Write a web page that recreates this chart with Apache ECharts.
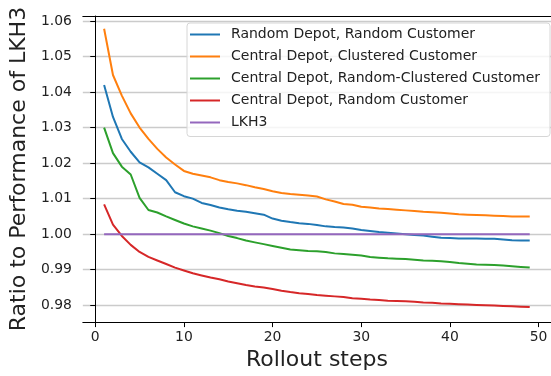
<!DOCTYPE html>
<html>
<head>
<meta charset="utf-8">
<script src="https://cdn.jsdelivr.net/npm/echarts@6/dist/echarts.min.js"></script>
<style>
  html, body { margin: 0; padding: 0; background: #fff; }
  #chart { width: 551px; height: 376px; }
</style>
</head>
<body>
<div id="chart"></div>
<script>
// rollout steps 1..49
const steps = [];
for (let i = 1; i <= 49; i++) steps.push(i);

const seriesNames = [
  "Random Depot, Random Customer",
  "Central Depot, Clustered Customer",
  "Central Depot, Random-Clustered Customer",
  "Central Depot, Random Customer",
  "LKH3"
];

const randomRandom = [
  1.0420, 1.0330, 1.0268, 1.0232, 1.0202, 1.0188, 1.0170, 1.0152, 1.0118, 1.0107,
  1.0100, 1.0088, 1.0082, 1.0075, 1.0070, 1.0066, 1.0063, 1.0059, 1.0055, 1.0044,
  1.0038, 1.0034, 1.0031, 1.0029, 1.0026, 1.0022, 1.0020, 1.0019, 1.0016, 1.0012,
  1.0009, 1.0006, 1.0004, 1.0002, 1.0000, 0.9998, 0.9996, 0.9993, 0.9990, 0.9989,
  0.9988, 0.9988, 0.9988, 0.9987, 0.9987, 0.9985, 0.9983, 0.9982, 0.9982
];

const centralClustered = [
  1.0578, 1.0448, 1.0390, 1.0340, 1.0300, 1.0268, 1.0240, 1.0216, 1.0196, 1.0178,
  1.0170, 1.0165, 1.0160, 1.0152, 1.0147, 1.0143, 1.0138, 1.0132, 1.0127, 1.0121,
  1.0116, 1.0113, 1.0111, 1.0109, 1.0106, 1.0098, 1.0092, 1.0085, 1.0083, 1.0077,
  1.0075, 1.0072, 1.0071, 1.0069, 1.0067, 1.0065, 1.0063, 1.0062, 1.0060, 1.0058,
  1.0056, 1.0055, 1.0054, 1.0053, 1.0052, 1.0051, 1.0050, 1.0050, 1.0050
];

const centralRandomClustered = [
  1.0300, 1.0228, 1.0190, 1.0168, 1.0102, 1.0068, 1.0061, 1.0050, 1.0040, 1.0030,
  1.0022, 1.0016, 1.0010, 1.0003, 0.9995, 0.9989, 0.9982, 0.9977, 0.9972, 0.9967,
  0.9962, 0.9957, 0.9955, 0.9953, 0.9952, 0.9950, 0.9946, 0.9944, 0.9942, 0.9940,
  0.9936, 0.9934, 0.9932, 0.9931, 0.9930, 0.9928, 0.9926, 0.9925, 0.9924, 0.9922,
  0.9919, 0.9917, 0.9915, 0.9914, 0.9913, 0.9912, 0.9910, 0.9908, 0.9906
];

const centralRandom = [
  1.0084, 1.0027, 0.9995, 0.9970, 0.9950, 0.9936, 0.9926, 0.9916, 0.9906, 0.9898,
  0.9890, 0.9884, 0.9878, 0.9873, 0.9867, 0.9862, 0.9857, 0.9853, 0.9850, 0.9846,
  0.9841, 0.9837, 0.9834, 0.9832, 0.9829, 0.9827, 0.9825, 0.9823, 0.9820, 0.9818,
  0.9816, 0.9815, 0.9813, 0.9812, 0.9811, 0.9810, 0.9808, 0.9807, 0.9805, 0.9804,
  0.9803, 0.9802, 0.9801, 0.9800, 0.9799, 0.9798, 0.9797, 0.9796, 0.9795
];

const lkh3 = steps.map(() => 1.0);

const xTicks = [0, 10, 20, 30, 40, 50];
const yTicks = [0.98, 0.99, 1.00, 1.01, 1.02, 1.03, 1.04, 1.05, 1.06];

const colors = ["#1f77b4", "#ff7f0e", "#2ca02c", "#d62728", "#9467bd"];
const allValues = [randomRandom, centralClustered, centralRandomClustered, centralRandom, lkh3];

const font = "DejaVu Sans";
const chart = echarts.init(document.getElementById("chart"));

const option = {
  animation: false,
  color: colors,
  // plot runs past the right edge of the picture (cropped figure)
  grid: { left: 81, top: 16, right: -6, bottom: 52 },
  legend: {
    orient: "vertical",
    left: 187, top: 23,
    padding: [4.5, 10, 7, 3],
    icon: "rect",
    itemGap: 8,
    itemWidth: 30,
    itemHeight: 2,
    backgroundColor: "rgba(255,255,255,0.8)",
    borderColor: "#d6d6d6",
    borderWidth: 1,
    borderRadius: 3,
    textStyle: { fontFamily: font, fontSize: 14, color: "#222", padding: [0, 0, 0, 6] },
    data: seriesNames
  },
  xAxis: [
    {
      type: "value",
      min: -1.4, max: 51.4,
      name: "Rollout steps",
      nameLocation: "middle",
      nameGap: 24,
      nameTextStyle: { fontFamily: font, fontSize: 22, color: "#222" },
      axisLine: { show: true, lineStyle: { color: "#000", width: 1 } },
      axisTick: { show: true, length: 5, customValues: xTicks, lineStyle: { color: "#000" } },
      axisLabel: { customValues: xTicks, margin: 8, fontFamily: font, fontSize: 13.9, color: "#222" },
      splitLine: { show: false }
    },
    {
      // top spine only
      type: "value",
      position: "top",
      min: -1.4, max: 51.4,
      axisLine: { show: true, onZero: false, lineStyle: { color: "#000", width: 1 } },
      axisTick: { show: false },
      axisLabel: { show: false },
      splitLine: { show: false }
    }
  ],
  yAxis: {
    type: "value",
    min: 0.97526, max: 1.0614,
    name: "Ratio to Performance of LKH3",
    nameLocation: "middle",
    nameGap: 45,
    nameTextStyle: { fontFamily: font, fontSize: 22, color: "#222" },
    axisLine: { show: true, lineStyle: { color: "#000", width: 1 } },
    axisTick: { show: true, length: 5, customValues: yTicks, lineStyle: { color: "#000" } },
    axisLabel: {
      customValues: yTicks, margin: 11, fontFamily: font, fontSize: 13.9, color: "#222",
      formatter: (v) => v.toFixed(2)
    },
    splitLine: { show: true, lineStyle: { color: "#cbcbcb", width: 1.3 } }
  },
  series: seriesNames.map((name, k) => ({
    name: name,
    type: "line",
    symbol: "none",
    lineStyle: { width: 2 },
    data: steps.map((s, i) => [s, allValues[k][i]])
  }))
};

chart.setOption(option);
</script>
</body>
</html>
